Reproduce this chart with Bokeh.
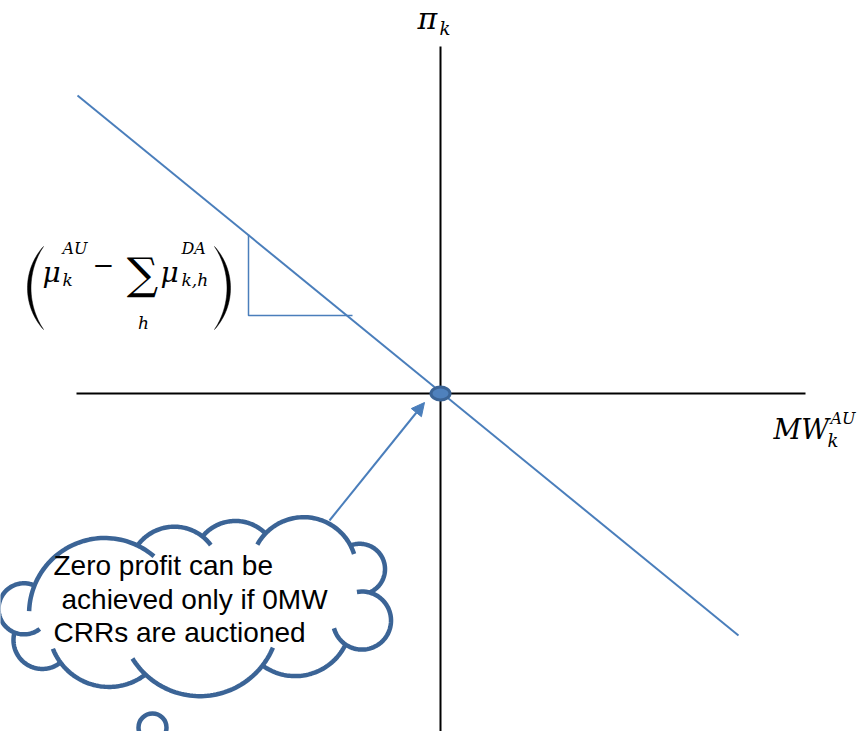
import numpy as np
from bokeh.plotting import figure
from bokeh.models import Range1d, Arrow, NormalHead
from bokeh.core.properties import value
from bokeh.embed import file_html
from bokeh.resources import INLINE

# ---------------- diagram data (page pixel coordinates) ----------------
h_axis_x = [76, 805]
h_axis_y = [393, 393]
v_axis_x = [440, 440]
v_axis_y = [46, 740]

line_x = [77, 738]
line_y = [95, 635]

tri_x = [248, 248, 352]
tri_y = [234, 315, 315]

origin_x = [440]
origin_y = [393]

arrow_from = (329, 520)
arrow_to = (424, 402)

cloud_junctions = [(34, 585), (137, 545), (202, 536), (265, 533), (350, 545),
                   (369, 592), (345, 644), (262, 665), (145, 674), (60, 662),
                   (14, 632)]
cloud_bulges = [24, 14, 14, 22, 25, 34, 20, 26, 18, 20, 26]
cloud_over_start = [20, 0, 0, 15, 0, 25, 0, 15, 0, 0, 60]
cloud_over_end = [15, 15, 0, 10, 0, 40, 0, 15, 15, 0, 0]
cloud_center = (200, 605)

bubble_x = [152]
bubble_y = [727]

cloud_lines = ["Zero profit can be", "achieved only if 0MW", "CRRs are auctioned"]
cloud_line_x = [53, 61, 53]
cloud_line_y = [574, 608, 641]
CLOUD_FONT = 28

BLUE = "#4a7ebb"
DARK = "#3b6496"
SERIF = value("DejaVu Serif")
SHIFT = 0.32  # renderer baseline correction (fraction of font size)

W, H = 868, 731


def arc(P, Q, h, ref, o1=0.0, o2=0.0, n=60):
    P = np.array(P, float)
    Q = np.array(Q, float)
    M = (P + Q) / 2
    d = Q - P
    c = np.hypot(*d)
    d = d / c
    nrm = np.array([-d[1], d[0]])
    if np.dot(M - np.array(ref, float), nrm) < 0:
        nrm = -nrm
    r = (h * h + (c / 2) ** 2) / (2 * h)
    O = M + (h - r) * nrm
    A = M + h * nrm
    aP = np.arctan2(*(P - O)[::-1])
    aQ = np.arctan2(*(Q - O)[::-1])
    aA = np.arctan2(*(A - O)[::-1])
    ccw = (aQ - aP) % (2 * np.pi)
    if (aA - aP) % (2 * np.pi) < ccw:
        sweep = ccw
    else:
        sweep = ccw - 2 * np.pi
    s = np.sign(sweep)
    t = np.linspace(aP - s * np.radians(o1), aP + sweep + s * np.radians(o2), n)
    return O[0] + r * np.cos(t), O[1] + r * np.sin(t)


p = figure(width=W, height=H, x_range=Range1d(0, W), y_range=Range1d(H, 0),
           x_axis_type=None, y_axis_type=None, toolbar_location=None,
           output_backend="svg", min_border=0, outline_line_color=None,
           background_fill_color="white", border_fill_color="white")
p.grid.visible = False

# axes
p.line(h_axis_x, h_axis_y, line_color="black", line_width=2)
p.line(v_axis_x, v_axis_y, line_color="black", line_width=2)

# demand line and slope triangle
p.line(line_x, line_y, line_color=BLUE, line_width=2)
p.line(tri_x, tri_y, line_color=BLUE, line_width=1.5)

# origin dot
p.ellipse(x=origin_x, y=origin_y, width=19, height=13, width_units="screen",
          height_units="screen", fill_color="#4f81bd", line_color=DARK, line_width=3)

# arrow
p.add_layout(Arrow(end=NormalHead(size=13, fill_color=BLUE, line_color=BLUE),
                   x_start=arrow_from[0], y_start=arrow_from[1],
                   x_end=arrow_to[0], y_end=arrow_to[1],
                   line_color=BLUE, line_width=2))

# cloud
nJ = len(cloud_junctions)
fill_x, fill_y = [], []
for i in range(nJ):
    P = cloud_junctions[i]
    Q = cloud_junctions[(i + 1) % nJ]
    xs, ys = arc(P, Q, cloud_bulges[i], cloud_center)
    fill_x.extend(xs)
    fill_y.extend(ys)
p.patch(fill_x, fill_y, fill_color="white", line_color=None)
for i in range(nJ):
    P = cloud_junctions[i]
    Q = cloud_junctions[(i + 1) % nJ]
    xs, ys = arc(P, Q, cloud_bulges[i], cloud_center,
                 cloud_over_start[i], cloud_over_end[i])
    p.line(xs, ys, line_color=DARK, line_width=4.5)
p.circle(x=bubble_x, y=bubble_y, radius=14, fill_color="white",
         line_color=DARK, line_width=4.5)

p.text(x=cloud_line_x, y=[y - SHIFT * CLOUD_FONT for y in cloud_line_y],
       text=cloud_lines,
       text_font=value("Liberation Sans"), text_font_size=f"{CLOUD_FONT}px",
       text_color="black", text_baseline="alphabetic")


def t(x, y, s, size, style="italic", align="left", font=SERIF):
    p.text(x=[x], y=[y - SHIFT * size], text=[s], text_font=font,
           text_font_size=f"{size}px", text_font_style=style, text_align=align,
           text_baseline="alphabetic", text_color="black")


# axis labels
t(417, 28, "π", 30)
t(439, 34, "k", 18)

t(773, 438, "MW", 27)
t(827, 446, "k", 18)
t(830, 423, "AU", 16)

# slope formula: parentheses
for (cx, side) in [(35, -1), (222, 1)]:
    top = (cx + 8 * (-side), 246)
    bot = (cx + 8 * (-side), 329)
    ref = (cx + 100 * (-side), 287)
    ox, oy = arc(top, bot, 16, ref)
    ix, iy = arc(top, bot, 12.5, ref)
    p.patch(list(ox) + list(ix[::-1]), list(oy) + list(iy[::-1]),
            fill_color="black", line_color="black", line_width=0.5)

t(42, 281, "μ", 28)
t(62, 253, "AU", 16)
t(62, 285, "k", 17)
t(103, 272, "−", 26, style="normal", align="center")
t(142, 287, "∑", 44, style="normal", align="center")
t(143, 328, "h", 17, align="center")
t(160, 281, "μ", 28)
t(181, 253, "DA", 16)
t(181, 285, "k,h", 17)

open("out.html", "w").write(file_html(p, INLINE))
